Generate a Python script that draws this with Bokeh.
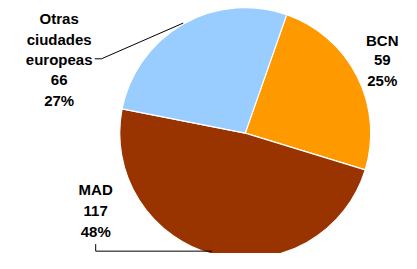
import math
from bokeh.plotting import figure
from bokeh.models import ColumnDataSource, Range1d
from bokeh.core.properties import value
from bokeh.embed import file_html
from bokeh.resources import INLINE

# ---- data ----
categories = ["BCN", "MAD", "Otras ciudades europeas"]
name_lines = [["BCN"], ["MAD"], ["Otras", "ciudades", "europeas"]]
values = [59, 117, 66]
percent_labels = ["25%", "48%", "27%"]
colors = ["#FF9900", "#993300", "#99CCFF"]

# ---- layout: coordinates in the reference image frame (417 x 269) ----
W, H = 401, 253
RW, RH = 417, 269
def dx(ix):
    return ix
def dy(iy):
    return RH - iy

cx_img, cy_img, R = 254.5, 141.0, 130.5
start_offset_deg = 19.3  # clockwise from 12 o'clock

label_pos = [
    (397, [42, 63.5, 85]),
    (99, [201, 223.5, 246]),
    (61, [19, 41, 63, 84, 106]),
]

total = float(sum(values))
starts, ends = [], []
cum = 0.0
for v in values:
    cw0 = start_offset_deg + 360.0 * cum / total
    cw1 = start_offset_deg + 360.0 * (cum + v) / total
    starts.append(math.radians(90 - cw0))
    ends.append(math.radians(90 - cw1))
    cum += v

src = ColumnDataSource(dict(
    x=[dx(cx_img)] * len(values), y=[dy(cy_img)] * len(values),
    start=starts, end=ends, color=colors, cat=categories))

p = figure(width=W, height=H, output_backend="svg", toolbar_location=None,
           x_range=Range1d(0, RW), y_range=Range1d(0, RH), min_border=0,
           outline_line_color=None, background_fill_color="white")
p.axis.visible = False
p.grid.visible = False

p.wedge(x="x", y="y", radius=R, start_angle="start", end_angle="end",
        direction="clock", fill_color="color", line_color="white",
        line_width=1.2, source=src)

# connector lines
p.line(x=[dx(98), dx(105), dx(190)], y=[dy(62), dy(62), dy(24)],
       line_color="black", line_width=1)
p.line(x=[dx(99), dx(99), dx(220)], y=[dy(259), dy(266.5), dy(266.5)],
       line_color="black", line_width=1)

# labels
tx, ty, tt = [], [], []
for i in range(len(values)):
    lines = name_lines[i] + [str(values[i]), percent_labels[i]]
    x_img, ys = label_pos[i]
    for line, y_img in zip(lines, ys):
        tx.append(dx(x_img))
        ty.append(dy(y_img))
        tt.append(line)
p.text(x=tx, y=ty, text=tt, text_align="center", text_baseline="middle",
       text_font=value("Liberation Sans"), text_font_style="bold",
       text_font_size="15px", text_color="black")

open("out.html", "w").write(file_html(p, INLINE))
